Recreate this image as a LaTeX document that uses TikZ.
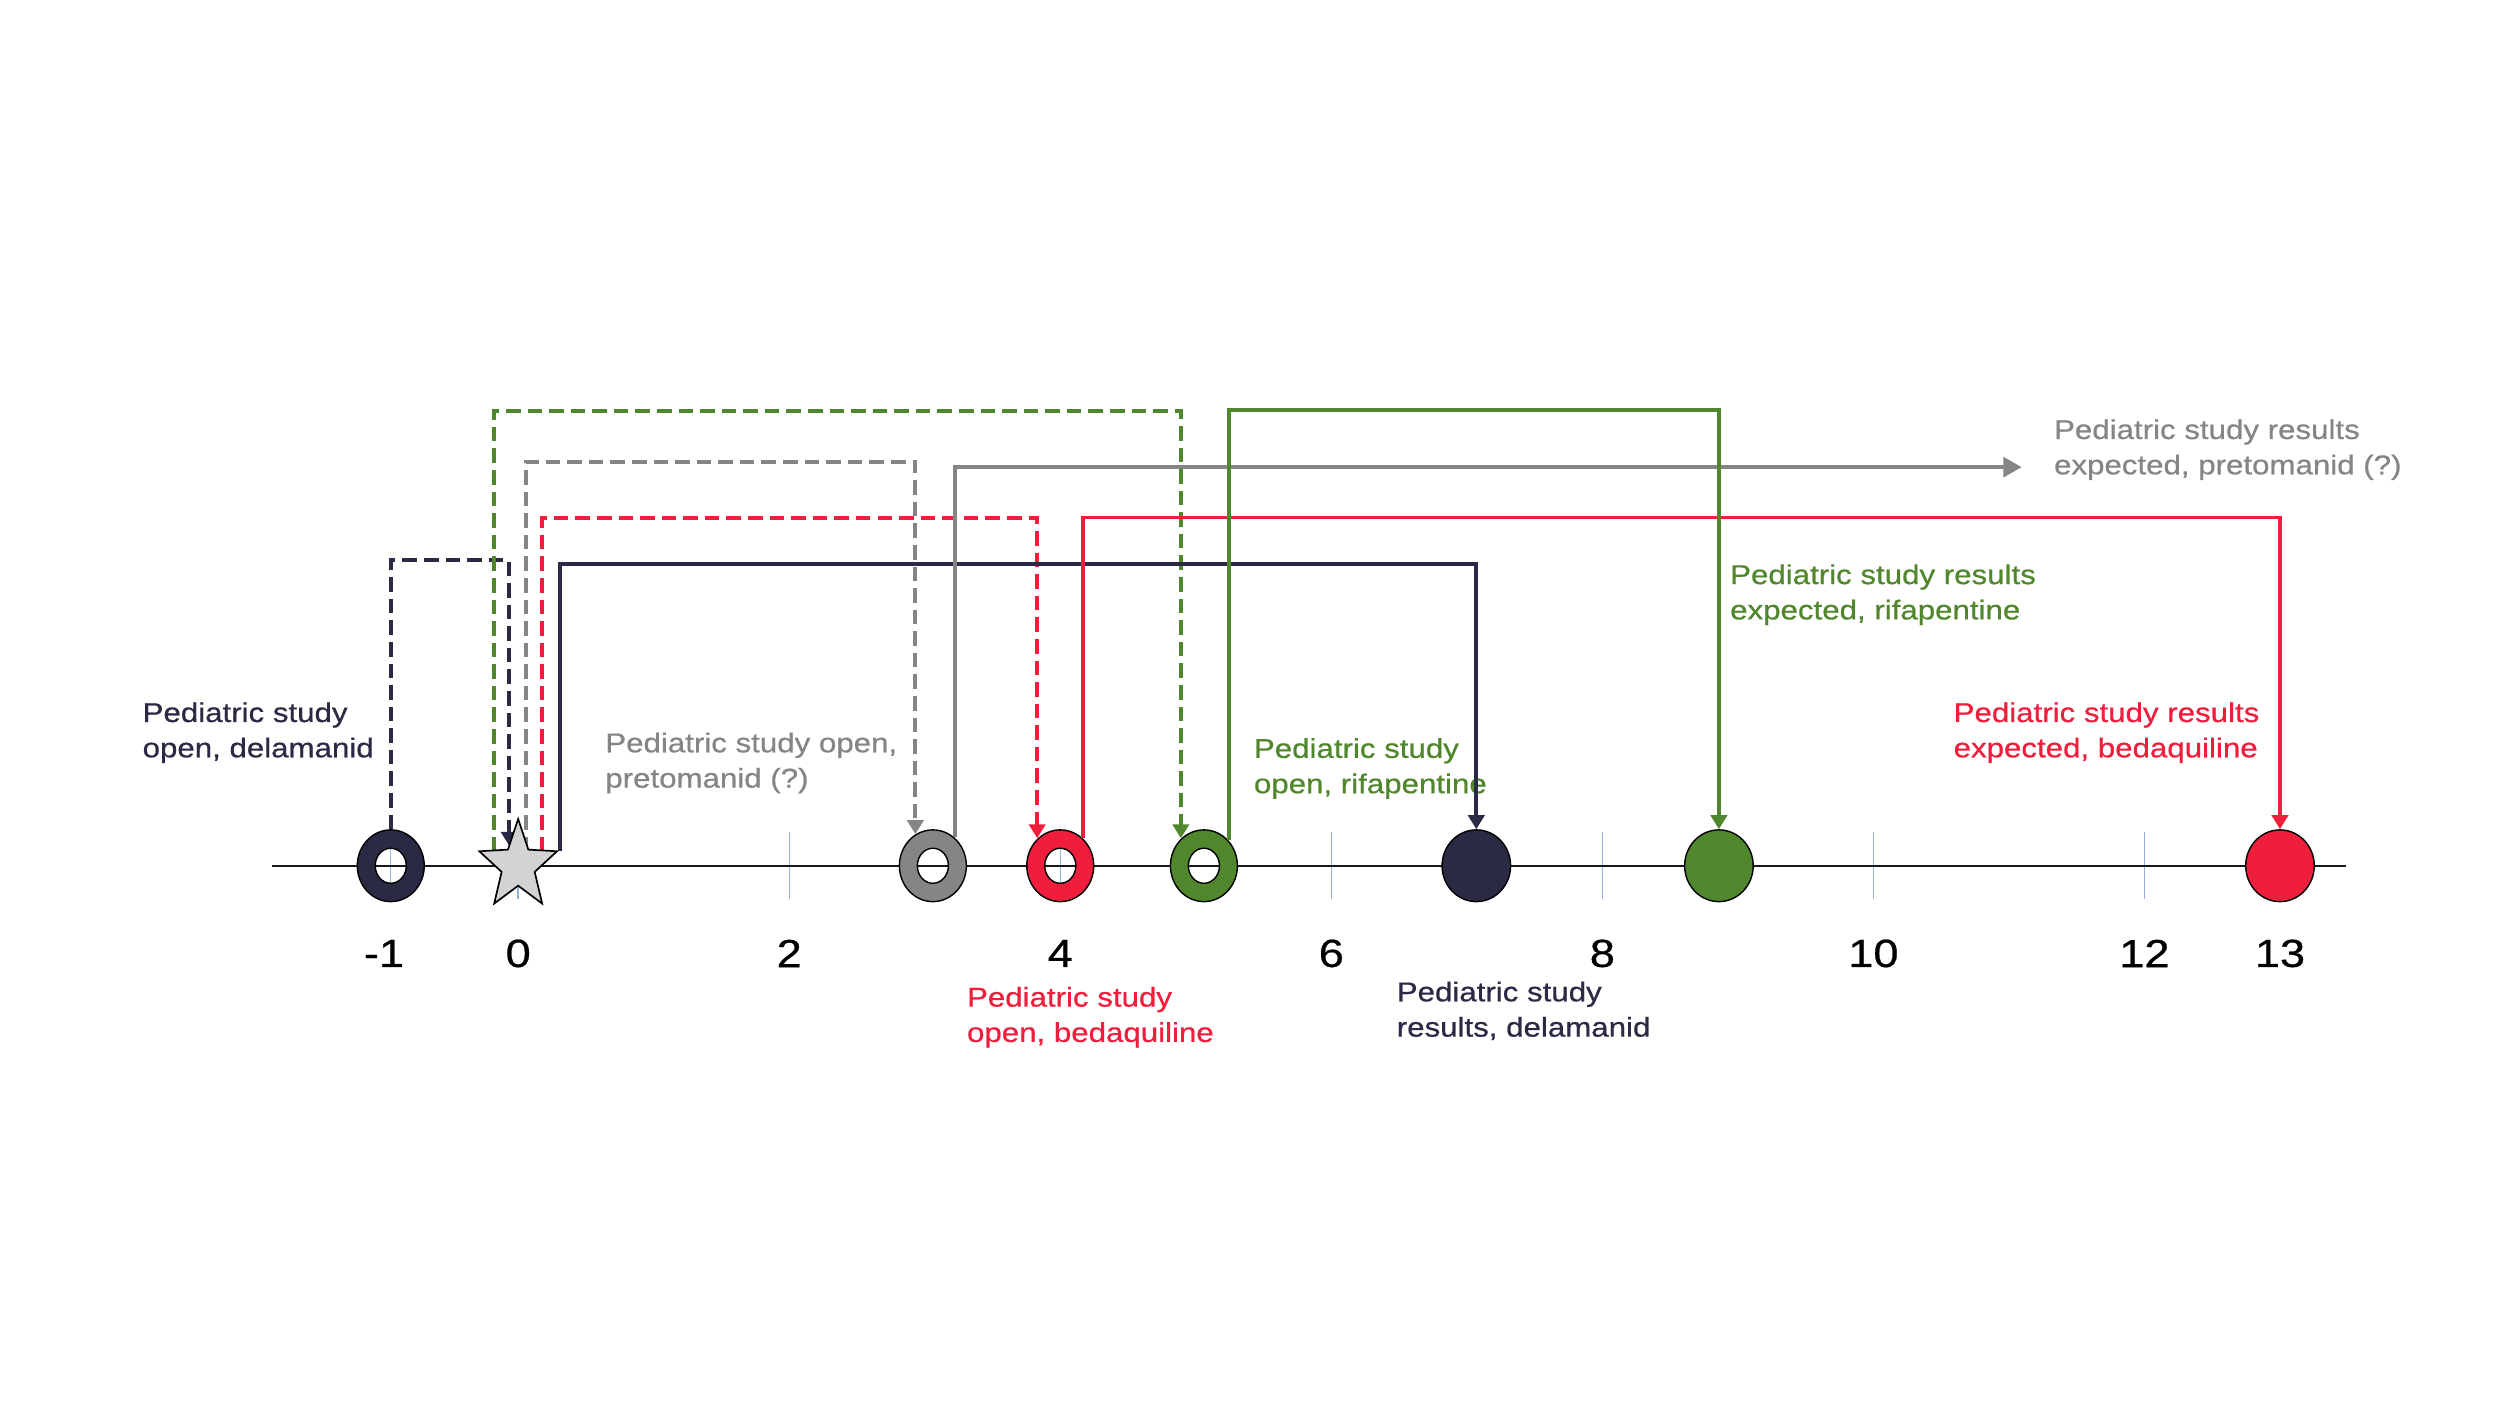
\documentclass[tikz,border=0pt]{standalone}
\usepackage{fontspec}
\setmainfont{Liberation Sans}[FakeStretch=1.15,FakeBold=0.6]
\usetikzlibrary{calc,arrows.meta,shapes.geometric}

\definecolor{dlmcol}{RGB}{43,42,68}
\definecolor{ptmcol}{RGB}{133,133,133}
\definecolor{bdqcol}{RGB}{238,30,60}
\definecolor{rpncol}{RGB}{80,135,45}
\definecolor{tickcol}{RGB}{150,178,225}
\definecolor{starcol}{RGB}{211,211,211}

\newcommand{\lblfont}{\fontsize{9.7}{12.6}\selectfont}
\newcommand{\yrfont}{\fontsize{14}{16}\selectfont}
\newcommand{\ringrx}{0.42cm}
\newcommand{\ringry}{0.45cm}
\newcommand{\holerx}{0.195cm}
\newcommand{\holery}{0.22cm}
\newcommand{\ticklen}{0.42}
\newcommand{\yrdrop}{-1.1}
\newcommand{\hdlmdash}{3.83}
\newcommand{\hdlm}{3.78}
\newcommand{\hptmdash}{5.07}
\newcommand{\hptm}{5.00}
\newcommand{\hbdq}{4.36}
\newcommand{\hrpn}{5.71}
\newcommand{\footy}{0.18cm}

\begin{document}
\begin{tikzpicture}[x=1.7cm, y=1cm,
  marker/.style={ellipse, minimum width=0.86cm, minimum height=0.9cm,
    inner sep=0pt, draw=black, line width=0.5pt},
  route/.style={line width=1.4pt, -{Triangle[length=5pt,width=5.8pt]}},
  dashroute/.style={route, dash pattern=on 5.2pt off 2.5pt},
  lbl/.style={align=left, anchor=west, inner sep=0pt, font=\lblfont},
  yearlbl/.style={font=\yrfont, inner sep=0pt},
  tickline/.style={tickcol, line width=0.5pt},
  starline/.style={draw=black, fill=starcol, line width=0.6pt, line join=miter}]

  % page
  \path[fill=white, use as bounding box] (-3.8235,-6.78) rectangle (14.6235,10.86);

  % year ticks
  \foreach \t in {-0.94,0,2,4,6,8,10,12,13}
    \draw[tickline] (\t,-\ticklen) -- (\t,\ticklen);

  % time axis
  \draw[line width=0.8pt, black!90] (-1.815,0) -- (13.49,0);

  % year labels
  \foreach \t/\lab in {-0.99/-1,0/0,2/2,4/4,6/6,8/8,10/10,12/12,13/13}
    \node[yearlbl] (year\lab) at (\t,\yrdrop) {\lab};

  % study open (rings)
  \foreach \nm/\yr/\col in {dlmopen/-0.94/dlmcol, ptmopen/3.06/ptmcol,
                            bdqopen/4/bdqcol, rpnopen/5.06/rpncol}{
    \node[marker, draw=none] (\nm) at (\yr,0) {};
    \path[draw=black, line width=0.5pt, fill=\col, even odd rule]
      (\nm.center) ellipse [x radius=\ringrx, y radius=\ringry]
      (\nm.center) ellipse [x radius=\holerx, y radius=\holery];
  }

  % study results (filled)
  \foreach \nm/\yr/\col in {dlmres/7.07/dlmcol, rpnres/8.86/rpncol, bdqres/13/bdqcol}
    \node[marker, fill=\col] (\nm) at (\yr,0) {};

  % start (star)
  \node[circle, minimum size=1.1cm, inner sep=0pt] (start) at (0,0) {};

  % texts
  \node[lbl, text=dlmcol] (dlmopentxt) at (-2.775,1.67) {Pediatric study\\open, delamanid};
  \node[lbl, text=ptmcol] (ptmopentxt) at (0.639,1.29) {Pediatric study open,\\pretomanid (?)};
  \node[lbl, text=rpncol] (rpnopentxt) at (5.425,1.22) {Pediatric study\\open, rifapentine};
  \node[lbl, text=bdqcol] (bdqopentxt) at (3.308,-1.90) {Pediatric study\\open, bedaquiline};
  \node[lbl, text=dlmcol] (dlmrestxt) at (6.479,-1.82) {Pediatric study\\results, delamanid};
  \node[lbl, text=rpncol] (rpnrestxt) at (8.939,3.40) {Pediatric study results\\expected, rifapentine};
  \node[lbl, text=bdqcol] (bdqrestxt) at (10.588,1.67) {Pediatric study results\\expected, bedaquiline};
  \node[lbl, text=ptmcol] (ptmrestxt) at (11.329,5.22) {Pediatric study results\\expected, pretomanid (?)};

  % feet of the lines at the star
  \coordinate (dlmtip)  at ($(start.center)+(-0.112cm,0.25cm)$);
  \coordinate (rpnfoot) at ($(start.center)+(-0.306cm,\footy)$);
  \coordinate (ptmfoot) at ($(start.center)+(0.094cm,\footy)$);
  \coordinate (bdqfoot) at ($(start.center)+(0.298cm,\footy)$);
  \coordinate (dlmfoot) at ($(start.center)+(0.527cm,\footy)$);
  \coordinate (ptmend)  at (11.094,\hptm);

  % line between delamanid open and start
  \draw[dashroute, dlmcol] (dlmopen.north) |- ($(dlmtip)+(0,\hdlmdash-0.25)$) -- (dlmtip);

  % line between start and rifapentine open
  \draw[dashroute, rpncol] (rpnfoot) -- ++(0,\hrpn-0.18) -| (rpnopen.130);

  % line between start and pretomanid open
  \draw[dashroute, ptmcol] (ptmfoot) -- ++(0,\hptmdash-0.18) -| (ptmopen.119);

  % line between start and bedaquiline open
  \draw[dashroute, bdqcol] (bdqfoot) -- ++(0,\hbdq-0.18) -| (bdqopen.130);

  % line between start and delamanid results
  \draw[route, dlmcol] (dlmfoot) -- ++(0,\hdlm-0.18) -| (dlmres.north);

  % line between pretomanid open and expected results
  \draw[line width=1.4pt, ptmcol, -{Triangle[length=6.5pt,width=7pt]}]
    (ptmopen.52) |- (ptmend);

  % line between bedaquiline open and results
  \draw[route, bdqcol] (bdqopen.50) |- ($(bdqres.north)+(0,\hbdq-0.45)$) -- (bdqres.north);

  % line between rifapentine open and results
  \draw[route, rpncol] (rpnopen.45) |- ($(rpnres.north)+(0,\hrpn-0.45)$) -- (rpnres.north);

  % star on top
  \draw[starline] ($(start.center)+(90:0.512cm and 0.587cm)$)
    \foreach \a/\b in {126/162,198/234,270/306,342/18}
      { -- ($(start.center)+(\a:0.218cm and 0.25cm)$) -- ($(start.center)+(\b:0.512cm and 0.587cm)$) }
    -- ($(start.center)+(54:0.218cm and 0.25cm)$) -- cycle;

\end{tikzpicture}
\end{document}
